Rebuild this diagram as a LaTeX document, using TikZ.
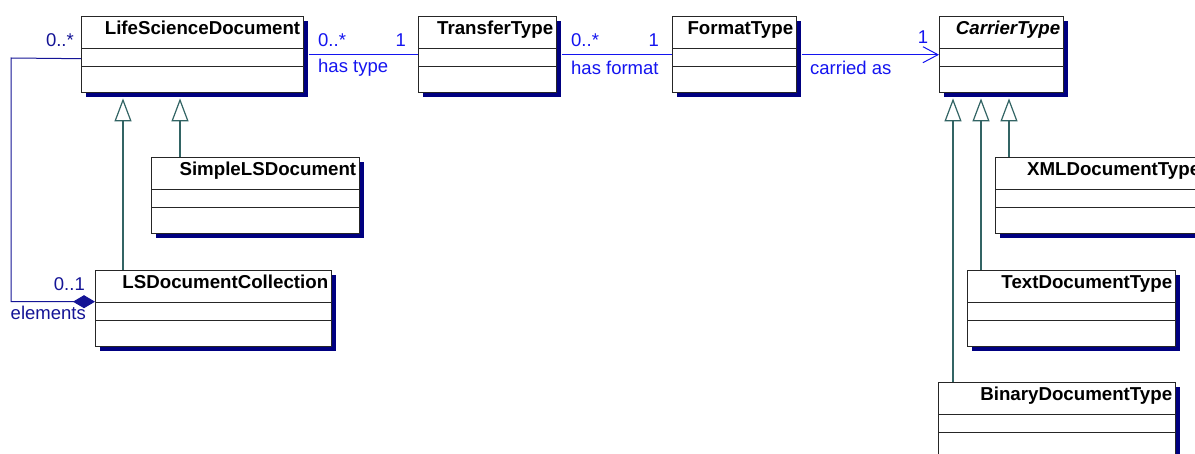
\documentclass[tikz,border=0pt]{standalone}
\usepackage{fontspec}
\setmainfont{Liberation Sans}
\usepackage{xcolor}
\usetikzlibrary{arrows.meta, positioning, shadows}

\definecolor{shadownavy}{RGB}{0,0,128}
\definecolor{assocblue}{RGB}{20,20,240}
\definecolor{aggnavy}{RGB}{20,20,150}
\definecolor{genteal}{RGB}{50,100,100}

\tikzset{
  classbox/.style={draw=black!85, line width=1.4pt, fill=white, anchor=north west,
    minimum height=76pt, inner sep=0pt,
    drop shadow={shadow xshift=4.5pt, shadow yshift=-4.5pt, fill=shadownavy, opacity=1}},
  rowline/.style={black!85, line width=1pt},
  classname/.style={font=\fontsize{18.7}{21}\selectfont\bfseries, inner sep=0pt},
  assoc/.style={assocblue, line width=1pt},
  assoclabel/.style={assocblue, font=\fontsize{18.5}{21}\selectfont, inner sep=0pt},
  agg/.style={aggnavy, line width=1pt},
  agglabel/.style={aggnavy, font=\fontsize{18.5}{21}\selectfont, inner sep=0pt},
  gen/.style={genteal, line width=1.2pt, -{Triangle[open, length=23pt, width=17pt]}},
}

% class box: name, x, y, width, title
\newcommand{\umlclass}[5]{%
  \node[classbox, minimum width=#4pt] (#1) at (#2,#3) {};
  \draw[rowline] ([yshift=-33pt]#1.north west) -- ([yshift=-33pt]#1.north east);
  \draw[rowline] ([yshift=-51pt]#1.north west) -- ([yshift=-51pt]#1.north east);
  \node[classname, anchor=base east] (#1-title) at ([xshift=-4pt,yshift=-19pt]#1.north east) {#5};
}

\begin{document}
\begin{tikzpicture}[x=1pt, y=-1pt]
\useasboundingbox (0,0) rectangle (1195,454);
\fill[white] (0,0) rectangle (1195,454);

% top row
\umlclass{lsd}{81}{16}{222}{LifeScienceDocument}
\umlclass{tt}{418}{16}{138}{TransferType}
\umlclass{ft}{672}{16}{124}{FormatType}
\umlclass{ct}{939}{16}{124}{\itshape CarrierType}

% document kinds
\umlclass{sld}{151}{157}{208}{SimpleLSDocument}
\umlclass{lsdc}{95}{270}{236}{LSDocumentCollection}

% carrier kinds
\umlclass{xdt}{995}{157}{208}{XMLDocumentType}
\umlclass{tdt}{967}{270}{208}{TextDocumentType}
\umlclass{bdt}{938}{382}{237}{BinaryDocumentType}

% associations along the top
\draw[assoc, shorten <=4.5pt] (lsd.east) -- (tt.west);
\node[assoclabel, anchor=west] (lsd-mult) at (318,40) {0..*};
\node[assoclabel, anchor=east] (tt-mult) at (406,40) {1};
\node[assoclabel, anchor=west] (hastype) at (318,68) {has type};

\draw[assoc, shorten <=4.5pt] (tt.east) -- (ft.west);
\node[assoclabel, anchor=west] (tt-mult2) at (571,40) {0..*};
\node[assoclabel, anchor=east] (ft-mult) at (659,40) {1};
\node[assoclabel, anchor=west] (hasformat) at (571,68) {has format};

\draw[assoc, shorten <=4.5pt, -{Straight Barb[length=15pt, width=16pt]}] (ft.east) -- (ct.west);
\node[assoclabel, anchor=west] (carriedas) at (810,68) {carried as};
\node[assoclabel] (ct-mult) at (923,37) {1};

% collection holds documents
\coordinate (aggbend) at (11,58);
\draw[agg, {Diamond[length=22pt, width=13pt, fill=aggnavy]}-] ([yshift=7pt]lsdc.west) -| (aggbend) -- ([yshift=-4pt]lsd.west);
\node[agglabel, anchor=east] (lsd-mult3) at (74,40) {0..*};
\node[agglabel, anchor=east] (lsdc-mult) at (85,284) {0..1};
\node[agglabel, anchor=east] (elements) at (86,313) {elements};

% inheritance
\coordinate (lsdfoot) at ([yshift=-5pt]lsd.south);
\coordinate (ctfoot) at ([yshift=-5pt]ct.south);
\draw[gen] ([xshift=29pt]sld.north west) -- ([xshift=29pt]sld.north west |- lsdfoot);
\draw[gen] ([xshift=28pt]lsdc.north west) -- ([xshift=28pt]lsdc.north west |- lsdfoot);
\draw[gen] ([xshift=15pt]bdt.north west) -- ([xshift=15pt]bdt.north west |- ctfoot);
\draw[gen] ([xshift=14pt]tdt.north west) -- ([xshift=14pt]tdt.north west |- ctfoot);
\draw[gen] ([xshift=14pt]xdt.north west) -- ([xshift=14pt]xdt.north west |- ctfoot);
\end{tikzpicture}
\end{document}
